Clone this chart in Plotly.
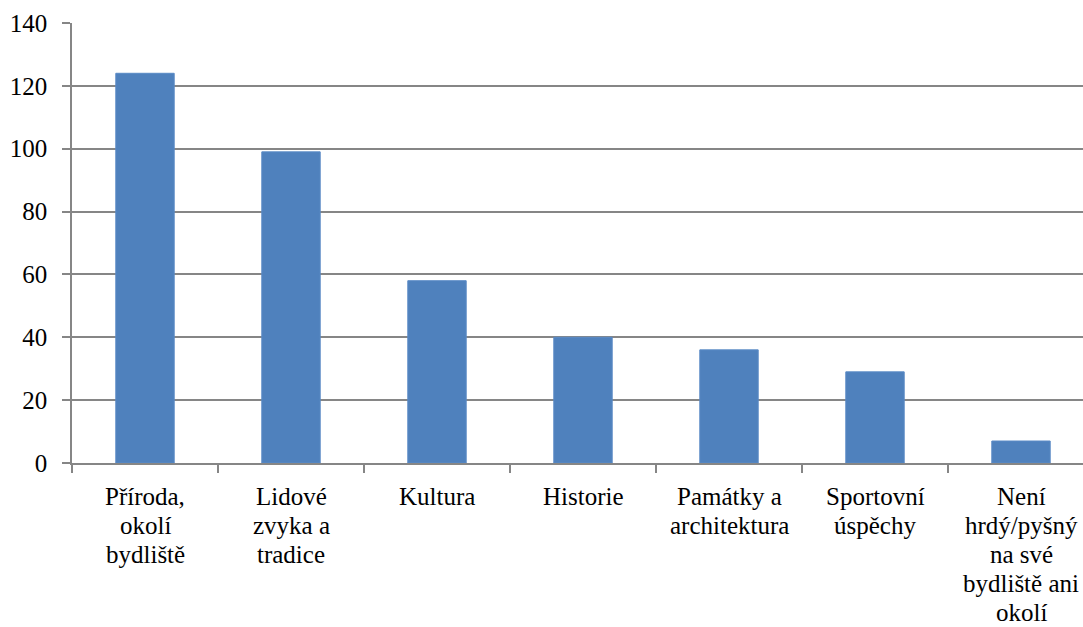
import plotly.graph_objects as go

categories = [
    "Příroda, okolí bydliště",
    "Lidové zvyka a tradice",
    "Kultura",
    "Historie",
    "Památky a architektura",
    "Sportovní úspěchy",
    "Není hrdý/pyšný na své bydliště ani okolí",
]
label_lines = [
    ["Příroda,", "okolí", "bydliště"],
    ["Lidové", "zvyka a", "tradice"],
    ["Kultura"],
    ["Historie"],
    ["Památky a", "architektura"],
    ["Sportovní", "úspěchy"],
    ["Není", "hrdý/pyšný", "na své", "bydliště ani", "okolí"],
]
values = [124, 99, 58, 40, 36, 29, 7]
y_ticks = [0, 20, 40, 60, 80, 100, 120, 140]

W, H = 1083, 627
left, right, top, bottom = 72, 0, 23, 164
cat_px = 146.0
plot_w = W - left - right
FONT = "Liberation Serif"

fig = go.Figure(
    go.Bar(
        x=categories,
        y=values,
        marker=dict(color="#4F81BD", line=dict(color="#5A8AC6", width=1)),
    )
)

# multi-line category labels with Excel-like line spacing
annotations = []
for cat, lines in zip(categories, label_lines):
    for j, line in enumerate(lines):
        annotations.append(
            dict(
                x=cat,
                xref="x",
                y=0,
                yref="paper",
                text=line,
                showarrow=False,
                xanchor="center",
                yanchor="middle",
                yshift=-33 - 29 * j,
                font=dict(family=FONT, size=25, color="#000000"),
            )
        )

fig.update_layout(
    width=W,
    height=H,
    margin=dict(l=left, r=right, t=top, b=bottom, pad=0, autoexpand=False),
    paper_bgcolor="white",
    plot_bgcolor="white",
    bargap=0.6,
    showlegend=False,
    font=dict(family=FONT, size=25, color="#000000"),
    annotations=annotations,
)

fig.update_xaxes(
    type="category",
    automargin=False,
    range=[-0.5, -0.5 + plot_w / cat_px],
    showgrid=False,
    showline=True,
    linecolor="#868686",
    linewidth=1.5,
    ticks="outside",
    tickson="boundaries",
    ticklen=8,
    tickcolor="#868686",
    tickwidth=1.5,
    showticklabels=False,
)

fig.update_yaxes(
    automargin=False,
    range=[0, 140],
    tickvals=y_ticks,
    showgrid=True,
    gridcolor="#868686",
    gridwidth=1.5,
    zeroline=False,
    showline=True,
    linecolor="#868686",
    linewidth=1.5,
    ticks="outside",
    ticklen=8,
    tickcolor="#868686",
    tickwidth=1.5,
    ticklabelstandoff=10,
)

fig.write_html(
    "out.html",
    config={"displayModeBar": False},
    post_script="document.body.style.margin='0';document.body.style.overflow='hidden';",
)
